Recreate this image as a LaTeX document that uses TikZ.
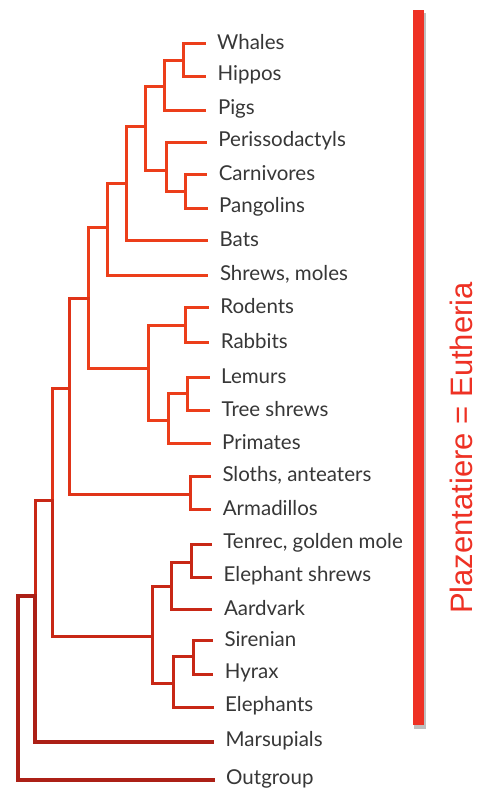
\documentclass[tikz,border=0pt]{standalone}
\usepackage{fontspec}
\setmainfont{Lato}
\newfontfamily\barfont{Liberation Sans}
\definecolor{brA}{RGB}{236,62,26}
\definecolor{brB}{RGB}{224,52,24}
\definecolor{brC}{RGB}{200,40,22}
\definecolor{brD}{RGB}{172,32,22}
\definecolor{lbl}{RGB}{55,55,55}
\definecolor{barred}{RGB}{238,49,36}
\tikzset{
  brline/.style={line width=3pt, line cap=rect, line join=miter},
  leaf/.style={anchor=west, inner sep=0pt, text=lbl, font=\fontsize{20.5}{20.5}\selectfont},
}
\begin{document}
\begin{tikzpicture}[x=1pt,y=-1pt]
\useasboundingbox (0,0) rectangle (488,790);
\fill[white] (0,0) rectangle (488,790);
% leaves: name / y / tip x / label
\foreach \n/\y/\t/\s in {
 wh/43/204/Whales, hi/76/204.4/Hippos, pi/110/204.8/Pigs,
 pe/142/205.2/Perissodactyls, ca/174/205.6/Carnivores, pa/208/206/Pangolins,
 ba/240/206.4/Bats, sh/275/206.8/{Shrews, moles}, ro/307/207.2/Rodents,
 ra/342/207.6/Rabbits, le/377/208/Lemurs, ts/410/208.5/Tree shrews,
 pr/443/209/Primates, sl/476/209.3/{Sloths, anteaters}, ar/509/209.7/Armadillos,
 te/544/210.1/{Tenrec, golden mole}, es/577/210.5/Elephant shrews,
 aa/609/210.9/Aardvark, si/640/211.3/Sirenian, hy/674/211.7/Hyrax,
 el/707/212/Elephants, ma/742/212.5/Marsupials, ou/780/213/Outgroup}{
  \coordinate (t-\n) at (\t,\y);
  \node[leaf] (l-\n) at (\t+13,\y-1) {\s};
}
% internal nodes
\coordinate (n1) at (183,60);
\coordinate (n2) at (164,86);
\coordinate (n3) at (185,191);
\coordinate (n4) at (166,170);
\coordinate (n5) at (145,126);
\coordinate (n6) at (126,183);
\coordinate (n7) at (107,227);
\coordinate (n8) at (185,325);
\coordinate (n9) at (187,393);
\coordinate (n10) at (168,420);
\coordinate (n11) at (148,368);
\coordinate (n12) at (88,298);
\coordinate (n13) at (190,494);
\coordinate (n14) at (69,388);
\coordinate (n15) at (191,562);
\coordinate (n16) at (171,586);
\coordinate (n17) at (193,656);
\coordinate (n18) at (173,683);
\coordinate (n19) at (152,636);
\coordinate (n20) at (52,500);
\coordinate (n21) at (35,596);
\coordinate (root) at (18,700);
% branches
\begin{scope}[brline, line width=3pt, draw=brA]
\draw (n1) |- (t-wh); \draw (n1) |- (t-hi);
\draw (n2) |- (n1); \draw (n2) |- (t-pi);
\draw (n3) |- (t-ca); \draw (n3) |- (t-pa);
\draw (n4) |- (t-pe); \draw (n4) |- (n3);
\draw (n5) |- (n2); \draw (n5) |- (n4);
\draw (n6) |- (n5); \draw (n6) |- (t-ba);
\draw (n7) |- (n6); \draw (n7) |- (t-sh);
\draw (n8) |- (t-ro); \draw (n8) |- (t-ra);
\draw (n9) |- (t-le); \draw (n9) |- (t-ts);
\draw (n10) |- (n9); \draw (n10) |- (t-pr);
\draw (n11) |- (n8); \draw (n11) |- (n10);
\draw (n12) |- (n7); \draw (n12) |- (n11);
\end{scope}
\begin{scope}[brline, line width=3pt, draw=brB]
\draw (n13) |- (t-sl); \draw (n13) |- (t-ar);
\draw (n14) |- (n12); \draw (n14) |- (n13);
\draw (n20) |- (n14);
\end{scope}
\begin{scope}[brline, line width=3pt, draw=brC]
\draw (n15) |- (t-te); \draw (n15) |- (t-es);
\draw (n16) |- (n15); \draw (n16) |- (t-aa);
\draw (n17) |- (t-si); \draw (n17) |- (t-hy);
\draw (n18) |- (n17); \draw (n18) |- (t-el);
\draw (n19) |- (n16); \draw (n19) |- (n18);
\draw (n20) |- (n19);
\draw (n21) |- (n20);
\end{scope}
\begin{scope}[brline, line width=3.2pt, draw=brD]
\draw (n21) |- (t-ma);
\draw (root) |- (n21); \draw (root) |- (t-ou);
\end{scope}
% Eutheria bar
\fill[black!25] (414,13) rectangle (426,729);
\fill[barred] (412.5,10) rectangle (423.5,725);
\node[rotate=90, anchor=base, inner sep=0pt, text=barred,
      font=\barfont\fontsize{31}{31}\selectfont] (eu) at (472,448) {Plazentatiere = Eutheria};
\end{tikzpicture}
\end{document}
